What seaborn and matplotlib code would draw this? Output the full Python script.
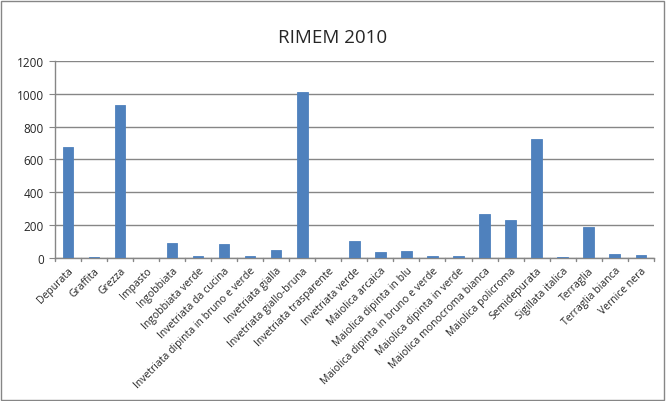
import numpy as np
import pandas as pd
import matplotlib
matplotlib.use('Agg')
import matplotlib.pyplot as plt
import seaborn as sns
from matplotlib.patches import Rectangle

categorie = ['Depurata', 'Graffita', 'Grezza', 'Impasto', 'Ingobbiata',
             'Ingobbiata verde', 'Invetriata da cucina',
             'Invetriata dipinta in bruno e verde', 'Invetriata gialla',
             'Invetriata giallo-bruna', 'Invetriata trasparente',
             'Invetriata verde', 'Maiolica arcaica', 'Maiolica dipinta in blu',
             'Maiolica dipinta in bruno e verde', 'Maiolica dipinta in verde',
             'Maiolica monocroma bianca', 'Maiolica policroma', 'Semidepurata',
             'Sigillata italica', 'Terraglia', 'Terraglia bianca', 'Vernice nera']
valori = [673, 8, 929, 0, 93, 14, 87, 14, 51, 1008, 0,
          100, 33, 45, 14, 14, 270, 228, 722, 8, 191, 26, 20]
yticks = [0, 200, 400, 600, 800, 1000, 1200]

df = pd.DataFrame({'cat': categorie, 'val': valori})

sns.set_style('white')
plt.rcParams['font.family'] = ['Open Sans', 'DejaVu Sans']

fig = plt.figure(figsize=(6.66, 4.02), dpi=100)
ax = fig.add_axes([0.0826, 0.356, 0.899, 0.490])

sns.barplot(data=df, x='cat', y='val', color='#4F81BD', width=0.4,
            saturation=1, ax=ax, zorder=3, linewidth=0.6, edgecolor='#4F81BD')

ax.set_ylim(0, 1200)
ax.set_yticks(yticks)
ax.set_yticklabels([str(t) for t in yticks], fontsize=8.5)
ax.set_xlim(-0.5, len(categorie) - 0.5)
ax.yaxis.grid(True, color='#868686', linewidth=1)
ax.set_axisbelow(True)
ax.set_xlabel('')
ax.set_ylabel('')

for s in ['top', 'right']:
    ax.spines[s].set_visible(False)
for s in ['left', 'bottom']:
    ax.spines[s].set_color('#868686')
    ax.spines[s].set_linewidth(1)

# etichette ruotate
ax.set_xticks(range(len(categorie)))
ax.set_xticklabels(categorie, rotation=45, ha='right', rotation_mode='anchor',
                   fontsize=7.5)
ax.tick_params(axis='x', length=0, pad=5)
ax.tick_params(axis='y', length=4, color='#868686', left=True, pad=4)
# tacche tra le categorie
for i in range(len(categorie) + 1):
    ax.plot([i - 0.5, i - 0.5], [0, -0.018], transform=ax.get_xaxis_transform(),
            color='#868686', lw=1, clip_on=False)

fig.text(0.5, 0.905, 'RIMEM 2010', ha='center', va='center', fontsize=13.5)

fig.patches.append(Rectangle((0.002, 0.003), 0.995, 0.993, transform=fig.transFigure,
                             fill=False, edgecolor='#868686', lw=1))

fig.savefig('out.png', dpi=100)
